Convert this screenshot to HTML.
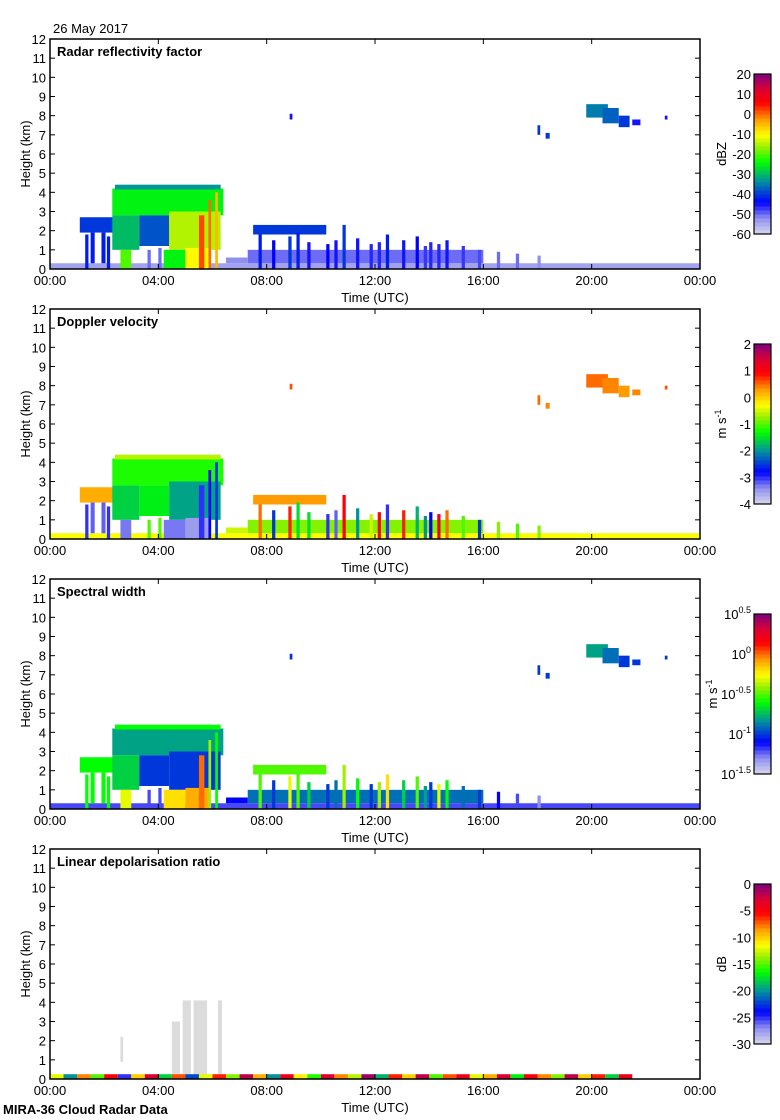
<!DOCTYPE html>
<html><head><meta charset="utf-8"><style>
html,body{margin:0;padding:0;background:#fff;}
svg{display:block;font-family:"Liberation Sans",sans-serif;}
</style></head><body>
<svg id="fig" width="780" height="1120" viewBox="0 0 780 1120" xmlns="http://www.w3.org/2000/svg">
<text x="53" y="33" font-size="13">26 May 2017</text>
<text x="3" y="1114" font-size="13" font-weight="bold">MIRA-36 Cloud Radar Data</text>
</svg>
<script>
// ---- cloud cell geometry (hours, km) ----
const cellT0 = [0, 7.3, 1.1, 1.5, 1.9, 2.3, 2.4, 2.3, 2.6, 3.3, 4.4, 4.2, 5.0, 5.5, 5.85, 6.1, 7.5, 19.8, 20.4, 21.0, 21.5, 8.85, 18.0, 18.3, 22.7, 6.5];
const cellT1 = [24, 16, 2.4, 1.65, 2.05, 6.4, 6.3, 3.3, 3.0, 4.4, 6.3, 5.0, 5.9, 5.7, 5.95, 6.2, 10.2, 20.6, 21.0, 21.4, 21.8, 8.95, 18.1, 18.45, 22.8, 7.3];
const cellH0 = [0, 0.3, 1.9, 0.3, 0.3, 2.8, 4.15, 1.0, 0, 1.2, 1.0, 0, 0, 0, 0, 0, 1.8, 7.9, 7.6, 7.4, 7.5, 7.8, 7.0, 6.8, 7.8, 0.3];
const cellH1 = [0.3, 1.0, 2.7, 1.9, 1.9, 4.2, 4.4, 2.8, 1.0, 2.8, 3.0, 1.0, 1.1, 2.8, 3.6, 4.0, 2.3, 8.6, 8.4, 8.0, 7.8, 8.1, 7.5, 7.1, 8.0, 0.6];
const zVals = [-54, -50, -40, -42, -42, -25, -33, -30, -20, -38, -15, -25, -10, 2, 0, -5, -40, -35, -37, -40, -45, -45, -40, -40, -45, -52];
const vVals = [-0.3, -0.8, 0.2, -3.2, -3.2, -1.2, -0.6, -1.6, -3.3, -1.4, -1.9, -3.3, -3.5, -3.0, -2.8, -2.5, 0.3, 0.5, 0.4, 0.3, 0.4, 0.6, 0.5, 0.4, 0.6, -0.5];
const wVals = [-1.2, -0.9, -0.6, -0.6, -0.6, -0.8, -0.6, -0.7, -0.3, -1.0, -1.0, -0.2, -0.1, 0.0, -0.4, -0.6, -0.5, -0.8, -0.9, -1.0, -1.0, -1.0, -1.0, -1.0, -1.0, -1.1];
// ---- precipitation / fall streaks ----
const streakT   = [7.7, 8.2, 8.8, 9.5, 10.2, 10.8, 11.3, 11.8, 12.4, 13.0, 13.5, 14.0, 14.6, 15.2, 15.8, 16.5, 17.2, 18.0, 1.3, 2.1, 3.6, 4.0, 9.1, 10.5, 12.1, 13.8, 14.3];
const streakTop = [1.8, 1.5, 1.7, 1.4, 1.3, 2.3, 1.6, 1.3, 1.8, 1.5, 1.7, 1.4, 1.5, 1.2, 1.0, 0.9, 0.8, 0.7, 1.8, 1.7, 1.0, 1.1, 1.9, 1.5, 1.4, 1.2, 1.3];
const streakZ   = [-42, -44, -40, -45, -44, -40, -45, -46, -42, -45, -44, -46, -45, -47, -48, -50, -50, -52, -42, -42, -50, -50, -42, -45, -46, -47, -46];
const streakV   = [0.5, -2.5, 0.8, -1.5, -3.0, 1.0, -2.0, -0.5, -3.0, 0.8, -1.8, -2.8, 0.5, -1.0, -2.5, -0.8, -1.0, -0.8, -3.0, -3.0, -1.0, -1.0, -1.5, -3.2, 0.9, -2.0, 1.2];
const streakW   = [-0.5, -1.0, -0.3, -0.7, -1.0, -0.4, -0.6, -1.0, -0.2, -0.7, -0.5, -1.0, -0.6, -0.9, -1.0, -1.1, -1.2, -1.3, -0.6, -0.6, -1.2, -1.2, -0.5, -0.9, -0.4, -0.8, -0.3];
// ---- LDR ----
const ldrT0 = [4.5, 4.9, 5.3, 6.2, 2.6];
const ldrT1 = [4.8, 5.2, 5.8, 6.35, 2.7];
const ldrH0 = [0.2, 0.2, 0.2, 0.2, 0.9];
const ldrH1 = [3.0, 4.1, 4.1, 4.1, 2.2];
const ldrBase = [-12, -20, -8, -15, -5, -25, -10, -3, -18, -7, -22, -12, -6, -14, -2, -9, -20, -4, -11, -16, -3, -8, -13, -1, -19, -6, -10, -2, -15, -7, -4, -12, -9, -3, -17, -5, -8, -14, -2, -10, -6, -18, -4];
// ---- panel settings ----
const panelTitles = ["Radar reflectivity factor", "Doppler velocity", "Spectral width", "Linear depolarisation ratio"];
const xTickLabels = ["00:00", "04:00", "08:00", "12:00", "16:00", "20:00", "00:00"];
const yTickLabels = ["0","1","2","3","4","5","6","7","8","9","10","11","12"];
const cbMin = [-60, -4, -1.5, -30];
const cbMax = [20, 2, 0.5, 0];
const cbTicks1 = ["20","10","0","-10","-20","-30","-40","-50","-60"];
const cbTicks2 = ["2","1","0","-1","-2","-3","-4"];
const cbTicks3 = ["0.5","0","-0.5","-1","-1.5"];
const cbTicks4 = ["0","-5","-10","-15","-20","-25","-30"];

const NS = "http://www.w3.org/2000/svg";
const svg = document.getElementById("fig");
const X0 = 50, X1 = 700, PH = 230;
const panelTop = [39, 309, 579, 849];
function xs(t){ return X0 + t / 24 * (X1 - X0); }
function ys(p, h){ return panelTop[p] + PH - h / 12 * PH; }
const stops = [[0,[216,216,236]],[0.1,[144,144,240]],[0.2,[0,0,255]],[0.33,[0,144,160]],[0.45,[0,255,0]],[0.55,[160,240,0]],[0.62,[255,255,0]],[0.72,[255,153,0]],[0.82,[255,0,0]],[0.9,[224,0,48]],[1,[128,0,128]]];
function cmap(n){
  n = Math.max(0, Math.min(1, n));
  for (let i = 1; i < stops.length; i++) {
    if (n <= stops[i][0]) {
      const a = stops[i-1], b = stops[i], f = (n - a[0]) / (b[0] - a[0]);
      const c = a[1].map((v, k) => Math.round(v + (b[1][k] - v) * f));
      return "rgb(" + c.join(",") + ")";
    }
  }
  return "rgb(128,0,128)";
}
function norm(p, v){ return (v - cbMin[p]) / (cbMax[p] - cbMin[p]); }
function mk(tag, attrs, parent){
  const e = document.createElementNS(NS, tag);
  for (const k in attrs) e.setAttribute(k, attrs[k]);
  (parent || svg).appendChild(e);
  return e;
}
function rect(p, t0, t1, h0, h1, fill, g){
  return mk("rect", {x: xs(t0), y: ys(p, h1), width: Math.max(1, xs(t1) - xs(t0)), height: ys(p, h0) - ys(p, h1), fill: fill}, g);
}
const valueSets = [zVals, vVals, wVals];
const streakSets = [streakZ, streakV, streakW];

for (let p = 0; p < 4; p++) {
  const g = mk("g", {});
  
  
  const dg = mk("g", {}, g);
  
  
  if (p < 3) {
    const vals = valueSets[p];
    for (let i = 0; i < cellT0.length; i++) {
      const r = rect(p, cellT0[i], cellT1[i], cellH0[i], cellH1[i], cmap(norm(p, vals[i])), dg);
      
      
    }
    const sv = streakSets[p];
    for (let i = 0; i < streakT.length; i++) {
      const r = rect(p, streakT[i], streakT[i] + 0.12, 0, streakTop[i], cmap(norm(p, sv[i])), dg);
      
      
    }
  } else {
    for (let i = 0; i < ldrT0.length; i++) {
      const r = rect(p, ldrT0[i], ldrT1[i], ldrH0[i], ldrH1[i], "#dcdcdc", dg);
      
      
    }
    for (let i = 0; i < ldrBase.length; i++) {
      const r = rect(p, i * 0.5, i * 0.5 + 0.5, 0, 0.25, cmap(norm(p, ldrBase[i])), dg);
      
      
    }
  }
  const top = panelTop[p], bot = top + PH;
  const fr = mk("rect", {x: X0, y: top, width: X1 - X0, height: PH, fill: "none", stroke: "#000", "stroke-width": 1.5}, g);
  
  
  for (let k = 0; k < yTickLabels.length; k++) {
    const y = ys(p, k);
    mk("line", {x1: X0, x2: X0 + 5, y1: y, y2: y, stroke: "#000"}, g);
    mk("line", {x1: X1 - 5, x2: X1, y1: y, y2: y, stroke: "#000"}, g);
    const t = mk("text", {x: X0 - 4, y: y + 5, "font-size": 13, "text-anchor": "end"}, g);
    t.textContent = yTickLabels[k];
    
    
  }
  for (let k = 0; k < xTickLabels.length; k++) {
    const x = xs(k * 4);
    mk("line", {x1: x, x2: x, y1: bot - 5, y2: bot, stroke: "#000"}, g);
    mk("line", {x1: x, x2: x, y1: top, y2: top + 5, stroke: "#000"}, g);
    const t = mk("text", {x: x, y: bot + 16, "font-size": 13, "text-anchor": "middle"}, g);
    t.textContent = xTickLabels[k];
    
    
  }
  const xt = mk("text", {x: 375, y: bot + 33, "font-size": 13, "text-anchor": "middle"}, g);
  xt.textContent = "Time (UTC)";
  
  
  const yt = mk("text", {x: 0, y: 0, "font-size": 13, "text-anchor": "middle", transform: "translate(30," + (top + 115) + ") rotate(-90)"}, g);
  yt.textContent = "Height (km)";
  
  
  const tt = mk("text", {x: 57, y: top + 17, "font-size": 13, "font-weight": "bold"}, g);
  tt.textContent = panelTitles[p];
  
  
  const cb = mk("g", {}, g);
  
  
  const cy0 = top + 35, cy1 = top + 195, cx = 754, cw = 17, N = 40;
  for (let i = 0; i < N; i++) {
    const y = cy1 - (i + 1) * (cy1 - cy0) / N;
    mk("rect", {x: cx, y: y, width: cw, height: (cy1 - cy0) / N + 0.5, fill: cmap((i + 0.5) / N)}, cb);
  }
  mk("rect", {x: cx, y: cy0, width: cw, height: cy1 - cy0, fill: "none", stroke: "#000", "stroke-width": 1.2}, cb);
  const ticks = [cbTicks1, cbTicks2, cbTicks3, cbTicks4][p];
  for (let k = 0; k < ticks.length; k++) {
    const y = cy0 + k * (cy1 - cy0) / (ticks.length - 1);
    const t = mk("text", {x: cx - 3, y: y + 5, "font-size": 13, "text-anchor": "end"}, cb);
    if (p === 2) {
      t.textContent = "10";
      const s = mk("tspan", {dy: -6, "font-size": 9}, t);
      s.textContent = ticks[k];
    } else {
      t.textContent = ticks[k];
    }
    
    
  }
  const ut = mk("text", {x: 0, y: 0, "font-size": 13, "text-anchor": "middle", transform: "translate(" + (p === 2 ? 717 : 726) + "," + (top + 115) + ") rotate(-90)"}, cb);
  if (p === 0) ut.textContent = "dBZ";
  else if (p === 3) ut.textContent = "dB";
  else { ut.textContent = "m s"; const s = mk("tspan", {dy: -5, "font-size": 9}, ut); s.textContent = "-1"; }
  
  
}
</script>
</body></html>
